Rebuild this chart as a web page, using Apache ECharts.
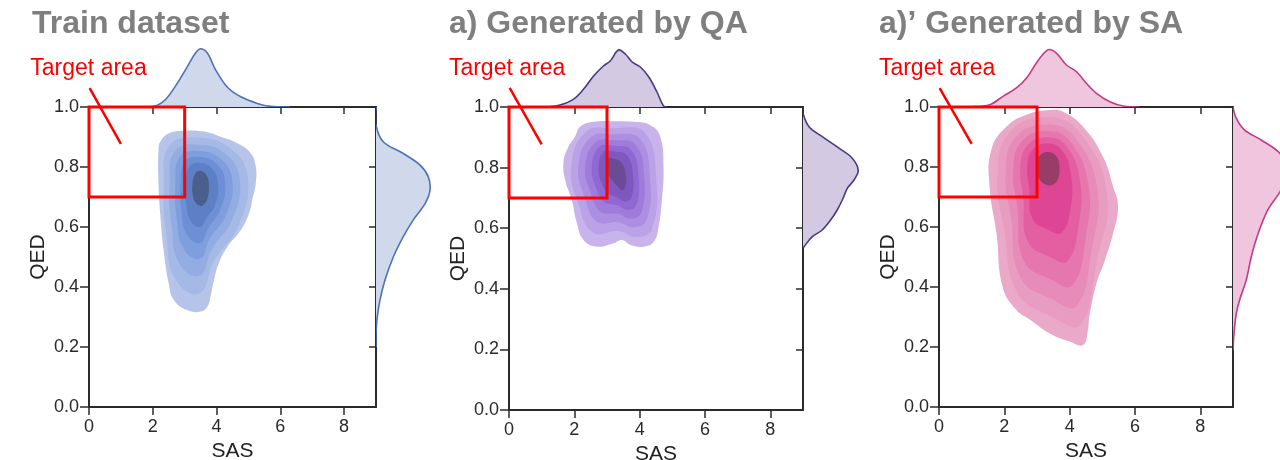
<!DOCTYPE html>
<html>
<head>
<meta charset="utf-8">
<script src="https://cdn.jsdelivr.net/npm/echarts@6/dist/echarts.min.js"></script>
<style>
html,body{margin:0;padding:0;background:#fff;}
#chart{width:1280px;height:460px;}
</style>
</head>
<body>
<div id="chart"></div>
<script>
// ---------------- DATA ----------------
const X_TICKS = [0, 2, 4, 6, 8];
const Y_TICKS = [0, 0.2, 0.4, 0.6, 0.8, 1.0];
const SAS_RANGE = [0, 9];
const QED_RANGE = [0, 1];
const TITLES = ['Train dataset', 'a) Generated by QA', 'a)\u2019 Generated by SA'];
const TARGET_LABEL = 'Target area';
const TARGET_BOX = [[0, 0.7], [3, 1.0]];          // [SAS,QED] corners
const POINTER_LINE = [[0.02, 1.063], [1.0, 0.877]];
const LABEL_POS = [-1.84, 1.128];

// Marginal densities (relative height 0..1)
const TRAIN_TOP_SAS = [1.4, 2.03, 2.39, 2.76, 3.08, 3.34, 3.5, 3.71, 3.97, 4.34, 4.76, 5.28, 5.7, 6.3];
const TRAIN_TOP_DEN = [0, 0.01, 0.12, 0.39, 0.67, 0.9, 0.97, 0.9, 0.62, 0.33, 0.17, 0.06, 0.01, 0];
const TRAIN_RIGHT_QED = [1.0, 0.94, 0.884, 0.845, 0.807, 0.768, 0.723, 0.679, 0.623, 0.568, 0.501, 0.423, 0.357, 0.301, 0.245, 0.2];
const TRAIN_RIGHT_DEN = [0, 0, 0.12, 0.455, 0.73, 0.87, 0.9, 0.82, 0.62, 0.455, 0.29, 0.15, 0.067, 0.022, 0, 0];

const QA_TOP_SAS = [1.0, 1.16, 1.56, 1.97, 2.28, 2.59, 2.89, 3.1, 3.35, 3.56, 3.77, 4.02, 4.28, 4.53, 4.73, 4.85];
const QA_TOP_DEN = [0, 0, 0.033, 0.128, 0.295, 0.517, 0.683, 0.767, 0.95, 0.883, 0.75, 0.667, 0.5, 0.25, 0.017, 0];
const QA_RIGHT_QED = [1.0, 0.979, 0.935, 0.902, 0.864, 0.831, 0.792, 0.759, 0.732, 0.693, 0.66, 0.627, 0.594, 0.572, 0.539, 0.535];
const QA_RIGHT_DEN = [0, 0, 0.1, 0.32, 0.6, 0.82, 0.92, 0.85, 0.74, 0.655, 0.57, 0.46, 0.32, 0.155, 0.017, 0];

const SA_TOP_SAS = [0.7, 0.94, 1.55, 1.96, 2.37, 2.68, 2.98, 3.19, 3.37, 3.6, 3.9, 4.21, 4.51, 4.82, 5.23, 5.64, 6.14];
const SA_TOP_DEN = [0, 0, 0.038, 0.178, 0.317, 0.483, 0.733, 0.883, 0.958, 0.895, 0.7, 0.588, 0.395, 0.228, 0.088, 0.017, 0];
const SA_RIGHT_QED = [1.0, 0.962, 0.923, 0.89, 0.846, 0.79, 0.75, 0.707, 0.657, 0.579, 0.501, 0.423, 0.357, 0.312, 0.245, 0.19];
const SA_RIGHT_DEN = [0, 0.055, 0.195, 0.47, 0.78, 0.95, 0.88, 0.75, 0.58, 0.42, 0.305, 0.22, 0.11, 0.055, 0.017, 0];

// KDE contour levels (outer -> inner), points [SAS, QED]
const TRAIN_LEVELS = [
  [[2.5,0.912],[2.97,0.921],[3.6,0.918],[4.13,0.901],[4.65,0.879],[5.07,0.846],[5.23,0.801],[5.23,0.746],[5.12,0.69],[5.02,0.646],[4.76,0.59],[4.34,0.534],[4.07,0.479],[3.92,0.423],[3.81,0.368],[3.71,0.334],[3.5,0.318],[3.08,0.323],[2.66,0.357],[2.5,0.412],[2.34,0.523],[2.24,0.634],[2.18,0.746],[2.18,0.857],[2.24,0.885]],
  [[3.33,0.898],[4.45,0.861],[4.98,0.763],[4.70,0.607],[3.93,0.488],[3.46,0.378],[2.72,0.424],[2.42,0.577],[2.35,0.747],[2.51,0.87]],
  [[3.37,0.875],[4.29,0.843],[4.73,0.756],[4.49,0.624],[3.86,0.527],[3.47,0.438],[2.84,0.477],[2.59,0.604],[2.53,0.745],[2.68,0.851]],
  [[3.40,0.854],[4.15,0.825],[4.50,0.75],[4.30,0.64],[3.80,0.563],[3.475,0.494],[2.96,0.528],[2.75,0.63],[2.71,0.743],[2.84,0.833]],
  [[3.43,0.834],[4.02,0.809],[4.27,0.744],[4.11,0.655],[3.74,0.596],[3.48,0.547],[3.07,0.575],[2.90,0.654],[2.87,0.740],[2.99,0.816]],
  [[3.46,0.814],[3.88,0.792],[4.05,0.738],[3.94,0.67],[3.68,0.63],[3.49,0.60],[3.18,0.622],[3.05,0.678],[3.03,0.738],[3.13,0.798]],
  [[3.5,0.787],[3.7,0.77],[3.76,0.73],[3.7,0.69],[3.6,0.675],[3.5,0.67],[3.32,0.685],[3.25,0.71],[3.24,0.735],[3.32,0.775]]
];
const QA_LEVELS = [
  [[2.18,0.935],[2.59,0.951],[3.2,0.953],[3.81,0.951],[4.33,0.94],[4.63,0.902],[4.73,0.803],[4.68,0.693],[4.58,0.605],[4.43,0.555],[4.12,0.539],[3.71,0.545],[3.46,0.561],[3.2,0.55],[2.69,0.539],[2.28,0.561],[2.08,0.616],[1.92,0.693],[1.72,0.759],[1.67,0.82],[1.82,0.869],[2.02,0.902]],
  [[3.2,0.930],[4.16,0.915],[4.51,0.762],[4.38,0.598],[3.91,0.571],[3.35,0.590],[2.57,0.586],[2.13,0.680],[1.90,0.80],[2.34,0.917]],
  [[3.2,0.910],[4.01,0.894],[4.32,0.763],[4.21,0.626],[3.81,0.603],[3.35,0.62],[2.69,0.621],[2.32,0.701],[2.12,0.80],[2.49,0.899]],
  [[3.2,0.89],[3.88,0.875],[4.14,0.765],[4.05,0.652],[3.73,0.632],[3.35,0.647],[2.80,0.655],[2.49,0.72],[2.33,0.80],[2.63,0.882]],
  [[3.2,0.872],[3.75,0.857],[3.97,0.766],[3.9,0.677],[3.64,0.66],[3.35,0.674],[2.91,0.687],[2.65,0.738],[2.53,0.80],[2.75,0.867]],
  [[3.2,0.853],[3.62,0.839],[3.80,0.768],[3.75,0.702],[3.56,0.688],[3.35,0.70],[3.01,0.718],[2.81,0.756],[2.74,0.80],[2.88,0.851]],
  [[3.2,0.83],[3.45,0.815],[3.58,0.77],[3.55,0.735],[3.45,0.725],[3.35,0.735],[3.15,0.76],[3.03,0.78],[3.0,0.80],[3.05,0.83]]
];
const SA_LEVELS = [
  [[3.4,0.99],[3.8,0.984],[4.41,0.934],[5.02,0.834],[5.33,0.734],[5.48,0.668],[5.33,0.579],[5.05,0.48],[4.82,0.412],[4.6,0.30],[4.56,0.257],[4.41,0.207],[4.0,0.218],[3.39,0.245],[2.8,0.29],[2.37,0.323],[1.95,0.40],[1.76,0.579],[1.55,0.734],[1.6,0.857],[2.06,0.934],[2.7,0.975]],
  [[3.39,0.966],[4.35,0.91],[5.15,0.708],[4.83,0.487],[4.33,0.274],[3.48,0.30],[2.40,0.381],[2.0,0.589],[1.79,0.768],[2.15,0.915]],
  [[3.38,0.942],[4.19,0.894],[4.85,0.726],[4.67,0.523],[4.21,0.337],[3.45,0.36],[2.49,0.432],[2.21,0.628],[2.04,0.777],[2.34,0.899]],
  [[3.375,0.92],[4.05,0.88],[4.57,0.743],[4.49,0.563],[4.08,0.406],[3.43,0.425],[2.60,0.487],[2.40,0.665],[2.27,0.785],[2.53,0.885]],
  [[3.37,0.899],[3.92,0.867],[4.31,0.758],[4.28,0.609],[3.93,0.486],[3.40,0.50],[2.72,0.551],[2.58,0.70],[2.49,0.793],[2.70,0.872]],
  [[3.36,0.878],[3.78,0.853],[4.04,0.774],[4.03,0.664],[3.75,0.581],[3.36,0.59],[2.86,0.628],[2.76,0.734],[2.70,0.80],[2.87,0.858]],
  [[3.35,0.85],[3.6,0.835],[3.69,0.795],[3.62,0.755],[3.45,0.74],[3.3,0.74],[3.1,0.755],[3.0,0.78],[2.99,0.81],[3.1,0.84]]
];

// ---------------- STYLE / LAYOUT ----------------
const FONT = '"Liberation Sans", Arial, Helvetica, sans-serif';
const PANELS = [
  { title: TITLES[0], titleX: 32, grid: {left: 89, top: 107, width: 287, height: 300},
    levels: TRAIN_LEVELS, topX: TRAIN_TOP_SAS, topD: TRAIN_TOP_DEN, rightY: TRAIN_RIGHT_QED, rightD: TRAIN_RIGHT_DEN,
    colors: ['#b5c4e8','#a5b9e6','#93ace2','#7f9edd','#6c8fd6','#5c7fc6','#4b5f8c'],
    margFill: '#d0d9ec', margLine: '#4e72b5' },
  { title: TITLES[1], titleX: 449, grid: {left: 509, top: 107, width: 294, height: 303},
    levels: QA_LEVELS, topX: QA_TOP_SAS, topD: QA_TOP_DEN, rightY: QA_RIGHT_QED, rightD: QA_RIGHT_DEN,
    colors: ['#c8b4eb','#bba2e7','#ad8fe1','#9f7cdb','#9068d3','#7e57bf','#6a4c96'],
    margFill: '#d3c9e3', margLine: '#4a3a80' },
  { title: TITLES[2], titleX: 879, grid: {left: 939, top: 107, width: 294, height: 300},
    levels: SA_LEVELS, topX: SA_TOP_SAS, topD: SA_TOP_DEN, rightY: SA_RIGHT_QED, rightD: SA_RIGHT_DEN,
    colors: ['#eba9c9','#e99cc2','#e78bb9','#e577ae','#e35fa2','#de4595','#983d68'],
    margFill: '#efc6de', margLine: '#c13b87' }
];
const MARG = 60;
const AXIS_COLOR = '#2b2b2b';

const grids = [], xAxes = [], yAxes = [], series = [], graphics = [];

PANELS.forEach((p, pi) => {
  const g = p.grid;
  const gi = pi * 3;
  const ai = pi * 4;
  grids.push({left: g.left, top: g.top, width: g.width, height: g.height, containLabel: false, outerBoundsMode: 'none'});
  grids.push({left: g.left, top: g.top - MARG, width: g.width, height: MARG, containLabel: false, outerBoundsMode: 'none'});
  grids.push({left: g.left + g.width, top: g.top, width: MARG, height: g.height, containLabel: false, outerBoundsMode: 'none'});

  // x axes
  xAxes.push({
    gridIndex: gi, type: 'value', min: SAS_RANGE[0], max: SAS_RANGE[1], position: 'bottom',
    name: 'SAS', nameLocation: 'middle', nameGap: 30,
    nameTextStyle: {fontFamily: FONT, fontSize: 21, color: '#222'},
    axisLine: {show: true, onZero: false, lineStyle: {color: AXIS_COLOR, width: 2}},
    axisTick: {show: true, inside: false, length: 8, customValues: X_TICKS, lineStyle: {color: AXIS_COLOR, width: 1.5}},
    axisLabel: {show: true, margin: 11, customValues: X_TICKS, fontFamily: FONT, fontSize: 18, color: '#2a2a2a'},
    splitLine: {show: false}
  });
  xAxes.push({
    gridIndex: gi, type: 'value', min: SAS_RANGE[0], max: SAS_RANGE[1], position: 'top',
    axisLine: {show: true, onZero: false, lineStyle: {color: AXIS_COLOR, width: 2}},
    axisTick: {show: true, inside: true, length: 7, customValues: X_TICKS, lineStyle: {color: AXIS_COLOR, width: 1.5}},
    axisLabel: {show: false}, splitLine: {show: false}
  });
  xAxes.push({gridIndex: gi + 1, type: 'value', min: SAS_RANGE[0], max: SAS_RANGE[1], show: false});
  xAxes.push({gridIndex: gi + 2, type: 'value', min: 0, max: 1, show: false});

  // y axes
  yAxes.push({
    gridIndex: gi, type: 'value', min: QED_RANGE[0], max: QED_RANGE[1], position: 'left',
    name: 'QED', nameLocation: 'middle', nameGap: 40, nameRotate: 90,
    nameTextStyle: {fontFamily: FONT, fontSize: 21, color: '#222'},
    axisLine: {show: true, onZero: false, lineStyle: {color: AXIS_COLOR, width: 2}},
    axisTick: {show: true, inside: false, length: 9, customValues: Y_TICKS, lineStyle: {color: AXIS_COLOR, width: 1.5}},
    axisLabel: {show: true, margin: 10, customValues: Y_TICKS, fontFamily: FONT, fontSize: 18, color: '#2a2a2a',
      formatter: v => Number(v).toFixed(1)},
    splitLine: {show: false}
  });
  yAxes.push({
    gridIndex: gi, type: 'value', min: QED_RANGE[0], max: QED_RANGE[1], position: 'right',
    axisLine: {show: true, onZero: false, lineStyle: {color: AXIS_COLOR, width: 2}},
    axisTick: {show: true, inside: true, length: 7, customValues: Y_TICKS, lineStyle: {color: AXIS_COLOR, width: 1.5}},
    axisLabel: {show: false}, splitLine: {show: false}
  });
  yAxes.push({gridIndex: gi + 1, type: 'value', min: 0, max: 1, show: false});
  yAxes.push({gridIndex: gi + 2, type: 'value', min: QED_RANGE[0], max: QED_RANGE[1], show: false});

  // KDE contours
  series.push({
    type: 'custom', xAxisIndex: ai, yAxisIndex: ai, clip: true, silent: true, z: 2,
    data: p.levels.map((_, i) => [i, 0.5]),
    renderItem: (params, api) => {
      const lv = p.levels[params.dataIndex];
      return {type: 'polygon', shape: {points: lv.map(pt => api.coord(pt)), smooth: 0.45},
        style: {fill: p.colors[params.dataIndex]}};
    }
  });
  // top marginal
  series.push({
    type: 'custom', xAxisIndex: ai + 2, yAxisIndex: ai + 2, clip: true, silent: true, z: 2,
    data: [[0, 0]],
    renderItem: (params, api) => {
      const pts = p.topX.map((x, i) => api.coord([x, p.topD[i]]));
      return {type: 'group', children: [
        {type: 'polygon', shape: {points: pts, smooth: 0.35}, style: {fill: p.margFill}},
        {type: 'polyline', shape: {points: pts, smooth: 0.35}, style: {fill: null, stroke: p.margLine, lineWidth: 1.6}}
      ]};
    }
  });
  // right marginal
  series.push({
    type: 'custom', xAxisIndex: ai + 3, yAxisIndex: ai + 3, clip: true, silent: true, z: 2,
    data: [[0, 0.5]],
    renderItem: (params, api) => {
      const pts = p.rightY.map((y, i) => api.coord([p.rightD[i], y]));
      return {type: 'group', children: [
        {type: 'polygon', shape: {points: pts, smooth: 0.35}, style: {fill: p.margFill}},
        {type: 'polyline', shape: {points: pts, smooth: 0.35}, style: {fill: null, stroke: p.margLine, lineWidth: 1.6}}
      ]};
    }
  });
  // target annotation
  series.push({
    type: 'custom', xAxisIndex: ai, yAxisIndex: ai, clip: false, silent: true, z: 10,
    data: [[0, 0.5]],
    renderItem: (params, api) => {
      const a = api.coord(TARGET_BOX[0]);
      const b = api.coord(TARGET_BOX[1]);
      const l1 = api.coord(POINTER_LINE[0]);
      const l2 = api.coord(POINTER_LINE[1]);
      const t = api.coord(LABEL_POS);
      return {type: 'group', children: [
        {type: 'rect', shape: {x: a[0], y: b[1], width: b[0] - a[0], height: a[1] - b[1]},
          style: {fill: null, stroke: '#ff0000', lineWidth: 3}},
        {type: 'line', shape: {x1: l1[0], y1: l1[1], x2: l2[0], y2: l2[1]},
          style: {stroke: '#ff0000', lineWidth: 2.5}},
        {type: 'text', x: t[0], y: t[1], style: {text: TARGET_LABEL, fill: '#ff0000',
          fontFamily: FONT, fontSize: 23, align: 'left', verticalAlign: 'middle'}}
      ]};
    }
  });

  graphics.push({type: 'text', x: p.titleX, y: 24, z: 100,
    style: {text: p.title, fill: '#7f7f7f', fontFamily: FONT, fontSize: 32, fontWeight: 'bold',
      align: 'left', verticalAlign: 'middle'}});
});

const chart = echarts.init(document.getElementById('chart'), null, {renderer: 'canvas'});
chart.setOption({
  animation: false,
  backgroundColor: '#ffffff',
  grid: grids,
  xAxis: xAxes,
  yAxis: yAxes,
  series: series,
  graphic: graphics
});
</script>
</body>
</html>
